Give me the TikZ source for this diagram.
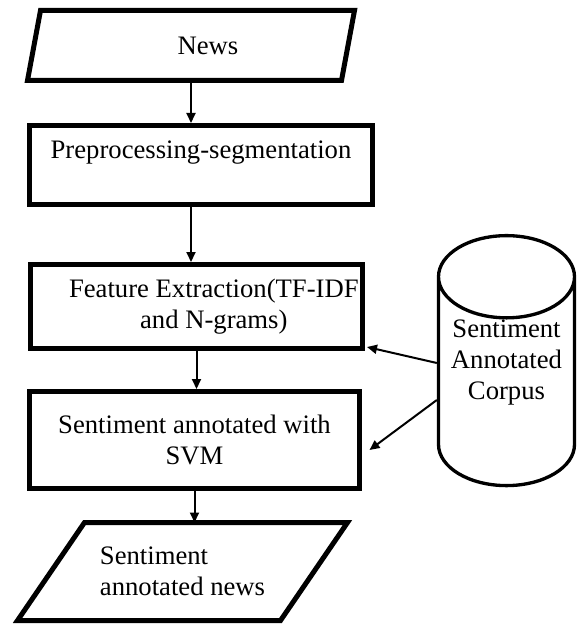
\documentclass[tikz,border=0pt]{standalone}
\usepackage{fontspec}
\setmainfont{Liberation Serif}
\usetikzlibrary{shapes.geometric,arrows.meta,calc}
\tikzset{
  stage/.style={draw,line width=3.75pt,inner sep=0pt,align=center},
  data/.style={inner sep=0pt,outer sep=0pt},
  data line/.style={line width=3.75pt},
  store/.style={cylinder,shape border rotate=90,draw,line width=2.5pt,
    aspect=0.74,inner sep=0pt,align=center},
  flow/.style={->,line width=1.5pt},
  >={Triangle[length=7.5pt,width=6.75pt]},
}

\begin{document}
\begin{tikzpicture}[x=0.75pt,y=-0.75pt,font=\fontsize{20}{23.5}\selectfont]
  \useasboundingbox (0,0) rectangle (581,627);
  \node[data,minimum width=245.25pt,minimum height=52.5pt] (news) at (191,45.5)
        {\hspace*{25.5pt}News};
  \draw[data line] ($(news.north west)+(13,0)$) -- (news.north east)
        -- ($(news.south east)+(-13,0)$) -- (news.south west) -- cycle;
  \node[stage,minimum width=257.25pt,minimum height=59.25pt] (prep) at (201,165)
        {Preprocessing-segmentation\\~};
  \node[stage,minimum width=249pt,minimum height=63pt] (feat) at (196.5,306.5)
        {\hspace*{26pt}Feature Extraction(TF-IDF\\\hspace*{26pt}and N-grams)};
  \node[stage,minimum width=247.5pt,minimum height=72.75pt] (svm) at (194.5,440)
        {Sentiment annotated with\\SVM};
  \node[data,align=left,minimum width=247.5pt,minimum height=73.5pt] (out) at (182.5,571.5)
        {Sentiment\\annotated news};
  \draw[data line] ($(out.north west)+(67,0)$) -- (out.north east)
        -- ($(out.south east)+(-67,0)$) -- (out.south west) -- cycle;
  \node[store,minimum width=102pt,minimum height=134pt] (corpus) at (506.5,382)
        {Sentiment\\Annotated\\Corpus\\[10pt]~};
  \path[flow]
    (news.south) edge (news.south |- prep.north)
    (news.south |- prep.south) edge (news.south |- feat.north)
    (feat.south) edge (feat.south |- svm.north)
    (svm.south) edge (svm.south |- out.north)
    ($(corpus.west |- corpus.center)+(0,-19)$) edge ($(feat.south east)+(2,-4)$)
    ($(corpus.west |- corpus.center)+(0,18)$) edge ($(svm.east)+(7.5,10)$);
\end{tikzpicture}
\end{document}
